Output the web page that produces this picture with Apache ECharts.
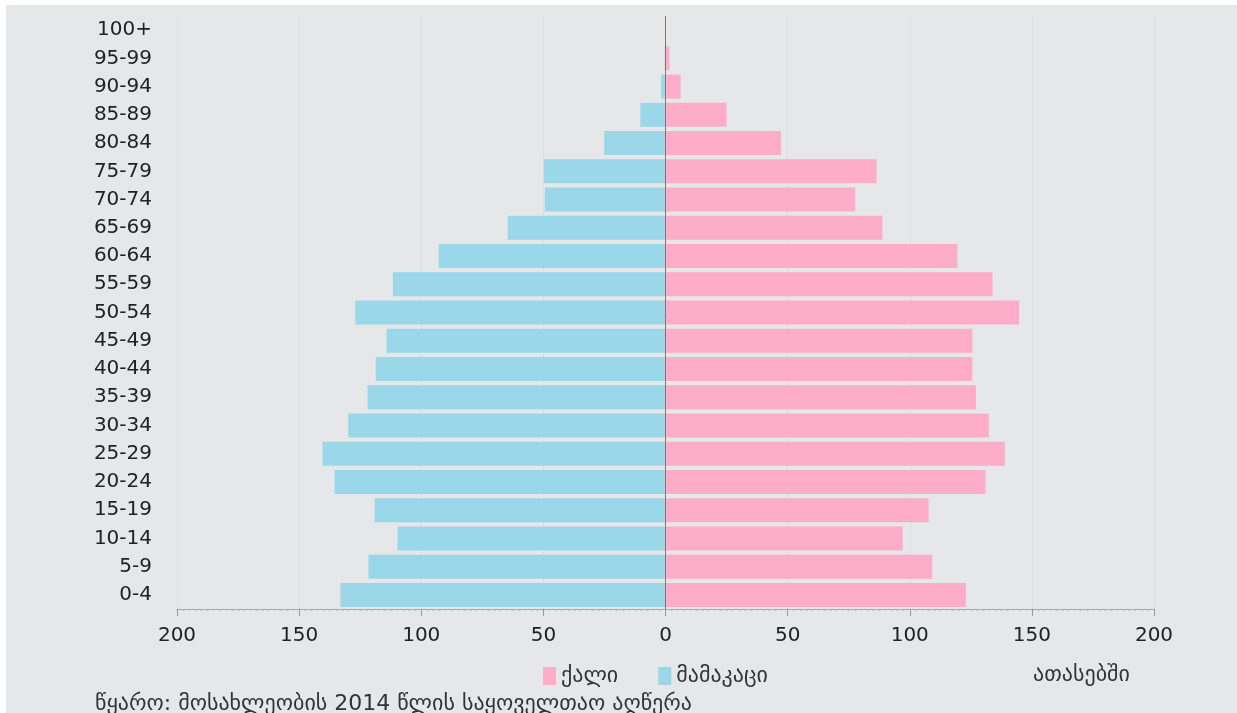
<!DOCTYPE html>
<html>
<head>
<meta charset="utf-8">
<script src="https://cdn.jsdelivr.net/npm/echarts@6/dist/echarts.min.js"></script>
<style>
html,body{margin:0;padding:0;background:#ffffff;width:1237px;height:713px;overflow:hidden;}
#chart{position:absolute;left:6px;top:5px;width:1231px;height:708px;background:#e6e7e9;}
</style>
</head>
<body>
<div id="chart"></div>
<script>
const categories = ['0-4','5-9','10-14','15-19','20-24','25-29','30-34','35-39','40-44','45-49','50-54','55-59','60-64','65-69','70-74','75-79','80-84','85-89','90-94','95-99','100+'];
const male = [133.1, 121.6, 109.7, 119.1, 135.5, 140.4, 129.9, 122.0, 118.6, 114.2, 127.0, 111.6, 92.9, 64.6, 49.4, 49.8, 25.1, 10.3, 1.8, 0.3, 0.05];
const female = [123.0, 109.2, 97.1, 107.7, 131.0, 138.9, 132.4, 127.1, 125.6, 125.6, 144.8, 133.9, 119.5, 88.8, 77.7, 86.4, 47.3, 25.0, 6.2, 1.6, 0.1];
const xTicks = [-200, -150, -100, -50, 0, 50, 100, 150, 200];
const femaleName = 'ქალი';
const maleName = 'მამაკაცი';
const unitText = 'ათასებში';
const sourceText = 'წყარო: მოსახლეობის 2014 წლის საყოველთაო აღწერა';

const FONT = "'DejaVu Sans', sans-serif";
const chart = echarts.init(document.getElementById('chart'));
chart.setOption({
  backgroundColor: '#e6e7e9',
  animation: false,
  grid: {left: 171, right: 83, top: 11, bottom: 104, containLabel: false},
  legend: {
    data: [femaleName, maleName],
    left: 532, top: 655,
    icon: 'rect', itemWidth: 13, itemHeight: 18, itemGap: 40,
    textStyle: {fontSize: 22, color: '#333', fontFamily: FONT}
  },
  xAxis: {
    type: 'value',
    min: xTicks[0], max: xTicks[xTicks.length - 1], interval: 50,
    axisLine: {show: true, lineStyle: {color: '#a8a8a8', width: 1}},
    axisTick: {show: true, length: 7, lineStyle: {color: '#999'}},
    minorTick: {show: true, splitNumber: 20, length: 2, lineStyle: {color: '#b0b0b0'}},
    axisLabel: {fontSize: 20, color: '#222', fontFamily: FONT, margin: 17,
      formatter: v => String(Math.abs(v))},
    splitLine: {show: true, lineStyle: {color: '#d2d3d5', type: 'dotted', width: 1}}
  },
  yAxis: {
    type: 'category',
    data: categories,
    axisLine: {show: false, onZero: false},
    axisTick: {show: false},
    axisLabel: {fontSize: 20, color: '#222', fontFamily: FONT, margin: 25}
  },
  series: [
    {
      name: femaleName, type: 'bar',
      data: female,
      barGap: '-100%', barCategoryGap: '15%',
      itemStyle: {color: '#fdadc8'},
      markLine: {
        silent: true, symbol: 'none', label: {show: false},
        lineStyle: {color: '#8a7470', type: 'solid', width: 1},
        data: [{xAxis: 0}]
      }
    },
    {
      name: maleName, type: 'bar',
      data: male.map(v => -v),
      barGap: '-100%', barCategoryGap: '15%',
      itemStyle: {color: '#9ad8e9'}
    }
  ],
  graphic: [
    {type: 'text', left: 1027, top: 659,
      style: {text: unitText, fontSize: 22, fill: '#333', fontFamily: FONT}},
    {type: 'text', left: 89, top: 688,
      style: {text: sourceText, fontSize: 22, fill: '#333', fontFamily: FONT}}
  ]
});
</script>
</body>
</html>
